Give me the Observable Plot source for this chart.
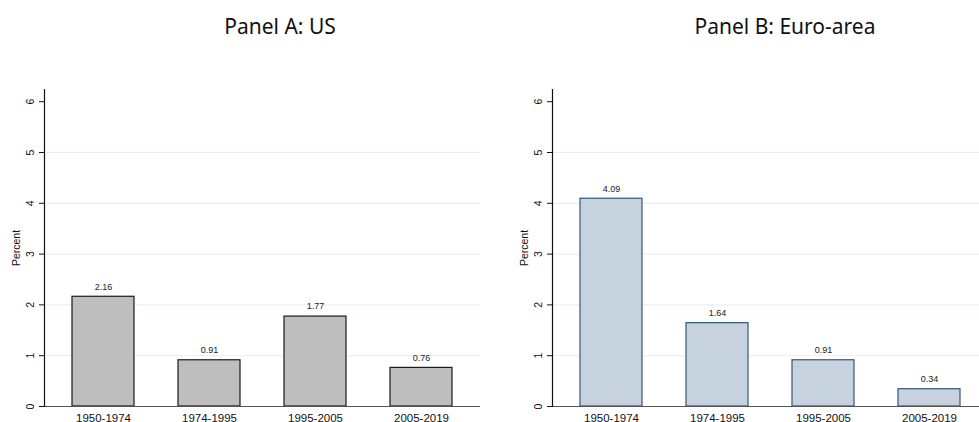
<!DOCTYPE html>
<html>
<head>
<meta charset="utf-8">
<script src="https://cdn.jsdelivr.net/npm/d3@7"></script>
<script src="https://cdn.jsdelivr.net/npm/@observablehq/plot@0.6"></script>
<style>
  html, body { margin: 0; padding: 0; background: #fff; width: 979px; height: 422px; overflow: hidden; position: relative; }
  .title { position: absolute; top: 12px; font-family: "Noto Sans", sans-serif; font-size: 21px; color: #111; transform: translateX(-50%); white-space: nowrap; }
  .panel { position: absolute; top: 60px; width: 490px; height: 362px; }
  .panel svg { max-width: none !important; }
</style>
</head>
<body>
<div class="title" style="left:280px">Panel A: US</div>
<div class="title" style="left:785px">Panel B: Euro-area</div>
<div class="panel" id="pa" style="left:0px"></div>
<div class="panel" id="pb" style="left:508px"></div>
<script>
const periods = ["1950-1974", "1974-1995", "1995-2005", "2005-2019"];
const usValues = [2.16, 0.91, 1.77, 0.76];
const euValues = [4.09, 1.64, 0.91, 0.34];
const yTicks = [0, 1, 2, 3, 4, 5, 6];
const gridTicks = [1, 2, 3, 4, 5];

function panel(values, fill, stroke) {
  const data = periods.map((p, i) => ({period: p, value: values[i]}));
  return Plot.plot({
    width: 490, height: 362,
    marginLeft: 44, marginRight: 10, marginTop: 29, marginBottom: 16,
    style: {fontFamily: "'Liberation Sans', Arial, sans-serif", background: "transparent", overflow: "visible", color: "#111", maxWidth: "none"},
    x: {domain: periods, paddingInner: 0.411, paddingOuter: 0.243, axis: null},
    y: {domain: [0, 6.24], axis: null},
    marks: [
      Plot.ruleY(gridTicks, {stroke: "#e4eef1", strokeWidth: 1}),
      Plot.barY(data, {x: "period", y: "value", fill, stroke, strokeWidth: 1.2}),
      Plot.text(data, {x: "period", y: "value", text: d => d.value.toFixed(2), dy: -10, fontSize: 9, fill: "#222"}),
      Plot.ruleY([0], {stroke: "#555", strokeWidth: 1.2}),
      Plot.frame({anchor: "left", stroke: "#111", strokeWidth: 1.2}),
      Plot.axisX({tickSize: 0, tickPadding: 7, fontSize: 11.5, label: null}),
      Plot.axisY(yTicks, {tickSize: 5, tickPadding: 6, tickRotate: -90, fontSize: 10.5, tickFormat: d => String(d), label: "Percent", labelArrow: "none", labelAnchor: "center", labelOffset: 32})
    ]
  });
}

document.getElementById("pa").append(panel(usValues, "#bebebe", "#1a1a1a"));
document.getElementById("pb").append(panel(euValues, "#c6d2dd", "#34557c"));
</script>
</body>
</html>
